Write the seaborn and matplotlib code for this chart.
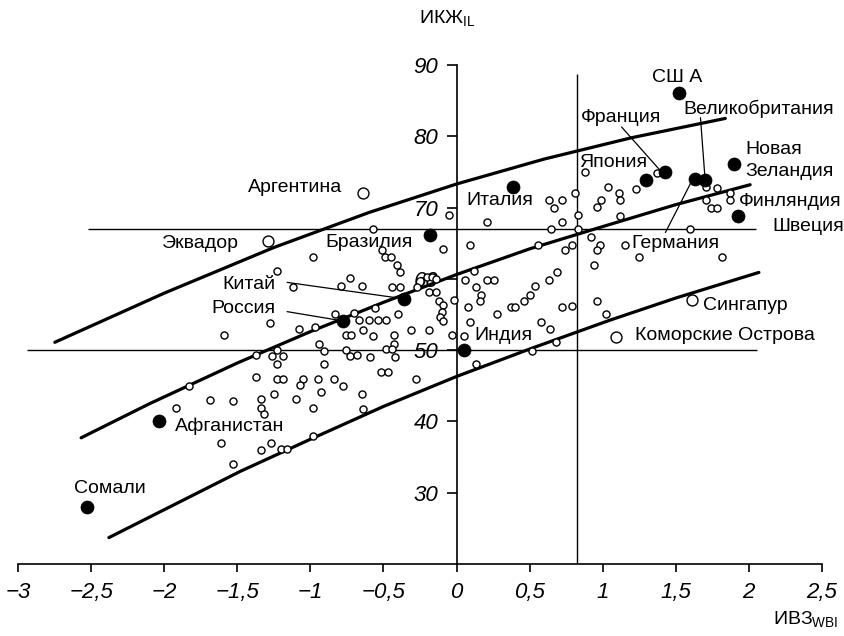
import numpy as np
import pandas as pd
import seaborn as sns
import matplotlib.pyplot as plt

# -----------------------------
# Data
# -----------------------------
# small open circles (all other countries)
small_x = [-0.57, -0.98, -0.51, -0.49, -0.45, -0.41, -0.39, -1.23, -1.12, -0.79,
           -0.73, -0.65, -0.44, -0.39, -0.27, -0.83, -0.70, -0.56, -0.40,
           -0.20, -0.17, -0.14, -0.19, -0.14, -0.12, -0.09, -0.10, -0.11, -0.02,
           -0.05, -0.09,
           0.21, 0.09, 0.56, 0.63, 0.67, 0.72, 0.72, 0.65, 0.81, 0.83, 0.83, 0.88,
           0.74, 0.79, 0.92, 0.98, 0.96, 0.94, 0.96, 0.99, 1.04, 1.11, 1.12, 1.12,
           1.23, 1.37, 1.15, 1.25, 1.60, 1.82, 1.71, 1.78, 1.71, 1.74, 1.78, 1.87,
           1.87, 0.96, 1.02, 0.06, 0.12, 0.21, 0.26, 0.13, 0.17, 0.16, 0.08, 0.28,
           0.37, 0.40, 0.46, 0.50, 0.54, 0.63, 0.69, 0.72, 0.79, 0.09, 0.05, 0.13,
           0.58, 0.64, 0.68, 0.52,
           -0.67, -0.60, -0.54, -0.48, -0.97, -0.64, -0.76, -0.72, -0.57, -0.43,
           -0.43, -0.31, -0.19, -0.09, -0.03, -0.94, -0.91, -0.76, -0.73, -0.68,
           -0.59, -0.48, -0.44, -0.42, -0.91, -0.52, -0.47, -0.28, -1.05, -1.07,
           -0.95, -0.84, -0.78, -0.93, -0.65, -0.98, -0.64, -0.98,
           -1.28, -1.08, -1.59, -1.37, -1.26, -1.19, -1.23, -1.23, -1.83, -1.37,
           -1.23, -1.19, -1.25, -1.10, -1.69, -1.53, -1.34, -1.34, -1.32, -1.92,
           -1.61, -1.34, -1.27, -1.20, -1.16, -1.53]
small_y = [67.0, 63.0, 64.0, 63.1, 63.1, 61.9, 60.9, 61.1, 58.8, 59.0,
           60.1, 59.0, 58.9, 58.9, 58.9, 55.0, 55.2, 55.9, 55.1,
           60.2, 60.2, 60.0, 58.1, 58.1, 56.9, 56.3, 55.4, 54.7, 57.1,
           68.9, 64.2,
           68.0, 64.8, 64.7, 71.0, 69.9, 71.0, 68.0, 67.0, 72.1, 68.9, 67.0, 75.0,
           64.0, 64.7, 65.9, 64.7, 64.0, 61.9, 70.1, 71.0, 72.9, 72.0, 71.0, 68.8,
           72.6, 74.9, 64.8, 63.0, 67.0, 63.0, 72.9, 72.8, 71.0, 70.0, 70.0, 72.1,
           71.0, 56.9, 55.0, 59.9, 61.1, 59.8, 59.8, 58.8, 57.8, 56.9, 56.1, 55.1,
           56.1, 56.1, 56.9, 57.8, 59.0, 59.9, 61.0, 56.1, 56.2, 53.9, 52.0, 48.0,
           53.9, 53.0, 51.1, 49.9,
           54.2, 54.2, 54.2, 54.2, 53.2, 52.8, 52.1, 52.1, 52.0, 52.1,
           50.9, 52.8, 52.8, 54.1, 52.1, 50.9, 49.9, 50.0, 49.2, 49.3,
           49.0, 50.1, 50.1, 49.0, 48.1, 47.0, 47.0, 46.0, 46.0, 45.1,
           46.0, 46.0, 44.9, 44.1, 43.9, 41.9, 41.8, 37.9,
           53.8, 53.0, 52.1, 49.3, 49.2, 49.2, 50.0, 48.1, 44.9, 46.2,
           46.0, 46.0, 43.9, 43.1, 43.0, 42.9, 43.1, 41.9, 41.0, 41.9,
           37.0, 36.0, 37.0, 36.1, 36.1, 34.0]

# highlighted countries (filled)
filled_names = ["СШ А", "Франция", "Япония", "Германия", "Великобритания",
                "Новая Зеландия", "Финляндия", "Италия", "Бразилия", "Китай",
                "Россия", "Индия", "Афганистан", "Сомали"]
filled_x = [1.52, 1.43, 1.30, 1.63, 1.70, 1.90, 1.93, 0.39, -0.18, -0.36,
            -0.78, 0.05, -2.04, -2.53]
filled_y = [86.0, 75.0, 73.8, 74.0, 73.8, 76.1, 68.8, 72.9, 66.1, 57.2,
            54.1, 50.0, 40.1, 28.0]

# highlighted countries (large open)
open_names = ["Аргентина", "Эквадор", "Сингапур", "Коморские Острова"]
open_x = [-0.64, -1.29, 1.61, 1.09]
open_y = [72.0, 65.3, 57.1, 51.9]

# trend band curves
upper_x = [-2.75, -2.0, -1.25, -0.6, 0.0, 0.6, 1.2, 1.84]
upper_y = [51.1, 58.0, 64.4, 69.3, 73.3, 76.8, 79.8, 82.5]
middle_x = [-2.57, -2.10, -1.5, -1.0, -0.5, 0.0, 0.5, 0.98, 1.5, 2.01]
middle_y = [37.7, 42.5, 48.2, 52.6, 56.7, 60.6, 64.2, 67.2, 70.4, 73.2]
lower_x = [-2.38, -1.48, -1.0, -0.5, 0.0, 0.52, 1.05, 1.5, 2.07]
lower_y = [23.7, 33.0, 37.5, 42.1, 46.3, 50.3, 54.2, 57.3, 60.9]

# reference lines
h_high, h_high_span = 67, (-2.52, 2.05)
h_low, h_low_span = 50, (-2.94, 2.06)
v_line, v_top = 0.825, 88.8

x_ticks = [-3, -2.5, -2, -1.5, -1, -0.5, 0, 0.5, 1, 1.5, 2, 2.5]
y_ticks = [30, 40, 50, 60, 70, 80, 90]

# label placement: (x, y, ha)
label_pos = {
    "СШ А": (1.34, 88.3, "left"),
    "Франция": (0.85, 82.7, "left"),
    "Япония": (0.84, 76.3, "left"),
    "Германия": (1.20, 64.9, "left"),
    "Великобритания": (1.55, 83.8, "left"),
    "Новая\nЗеландия": (1.98, 76.6, "left"),
    "Финляндия": (1.93, 70.8, "left"),
    "Швеция": (2.16, 67.3, "left"),
    "Италия": (0.07, 71.0, "left"),
    "Бразилия": (-0.90, 65.1, "left"),
    "Китай": (-1.24, 59.2, "right"),
    "Россия": (-1.24, 55.9, "right"),
    "Индия": (0.12, 52.1, "left"),
    "Афганистан": (-1.93, 39.3, "left"),
    "Сомали": (-2.62, 30.6, "left"),
    "Аргентина": (-0.78, 72.8, "right"),
    "Эквадор": (-1.49, 64.9, "right"),
    "Сингапур": (1.69, 56.3, "left"),
    "Коморские Острова": (1.22, 52.1, "left"),
}
# leader lines: (x0, y0, x1, y1)
leaders = [(-1.16, 59.5, -0.36, 57.2),
           (-1.16, 55.4, -0.78, 54.1),
           (1.13, 81.3, 1.39, 75.3),
           (1.67, 82.6, 1.70, 74.4),
           (1.43, 66.5, 1.61, 73.7)]

# -----------------------------
# Plot
# -----------------------------
sns.set_style("white")
plt.rcParams['font.family'] = ['Liberation Sans', 'DejaVu Sans']
plt.rcParams['text.color'] = 'black'
plt.rcParams['xtick.color'] = 'black'
plt.rcParams['ytick.color'] = 'black'

fig = plt.figure(figsize=(8.45, 6.36), dpi=100)
ax = fig.add_axes([18.3 / 845, 72 / 636, 803.4 / 845, (564 - 50.7) / 636])

ax.hlines(h_high, *h_high_span, color="black", lw=1.0, zorder=1)
ax.hlines(h_low, *h_low_span, color="black", lw=1.0, zorder=1)
ax.vlines(v_line, 20, v_top, color="black", lw=1.0, zorder=1)

for cx, cy in [(upper_x, upper_y), (middle_x, middle_y), (lower_x, lower_y)]:
    sns.lineplot(x=cx, y=cy, color="black", lw=2.3, ax=ax, zorder=2)

for x0, y0, x1, y1 in leaders:
    ax.plot([x0, x1], [y0, y1], color="black", lw=0.9, zorder=2)

sns.scatterplot(x=small_x, y=small_y, s=26, facecolor="white",
                edgecolor="black", linewidth=1.0, ax=ax, zorder=3)
sns.scatterplot(x=open_x, y=open_y, s=62, facecolor="white",
                edgecolor="black", linewidth=1.0, ax=ax, zorder=3)
sns.scatterplot(x=filled_x, y=filled_y, s=88, color="black",
                edgecolor="black", linewidth=0.5, ax=ax, zorder=4)

for text, (tx, ty, ha) in label_pos.items():
    ax.text(tx, ty, text, ha=ha, va="center", fontsize=14, linespacing=1.45,
            color="black", zorder=5)

# axes styling
ax.set_xlim(-3, 2.5)
ax.set_ylim(20, 92)
ax.spines["top"].set_visible(False)
ax.spines["right"].set_visible(False)
ax.spines["left"].set_position(("data", 0))
ax.spines["left"].set_bounds(20, 90)
ax.spines["bottom"].set_bounds(-3, 2.5)
for sp in ["left", "bottom"]:
    ax.spines[sp].set_color("black")
    ax.spines[sp].set_linewidth(1.2)

ax.set_xticks(x_ticks)
ax.set_xticklabels([("%g" % t).replace(".", ",").replace("-", "\u2212")
                    for t in x_ticks])
ax.set_yticks(y_ticks)
ax.set_yticklabels([str(t) for t in y_ticks])
ax.tick_params(axis="x", bottom=True, direction="out", length=6, width=1.2,
               pad=7, labelsize=16, color="black", labelcolor="black")
ax.tick_params(axis="y", left=True, direction="out", length=7, width=1.2,
               pad=6, labelsize=16, color="black", labelcolor="black")
for lab in ax.get_xticklabels() + ax.get_yticklabels():
    lab.set_fontstyle("italic")
ax.set_xlabel("")
ax.set_ylabel("")

ax.text(-0.26, 96.4, "ИКЖ$_{\\mathregular{IL}}$", fontsize=14,
        ha="left", va="center", color="black")
ax.text(2.17, 12.1, "ИВЗ$_{\\mathregular{WBI}}$", fontsize=14,
        ha="left", va="center", color="black")

plt.savefig("out.png", dpi=100)
